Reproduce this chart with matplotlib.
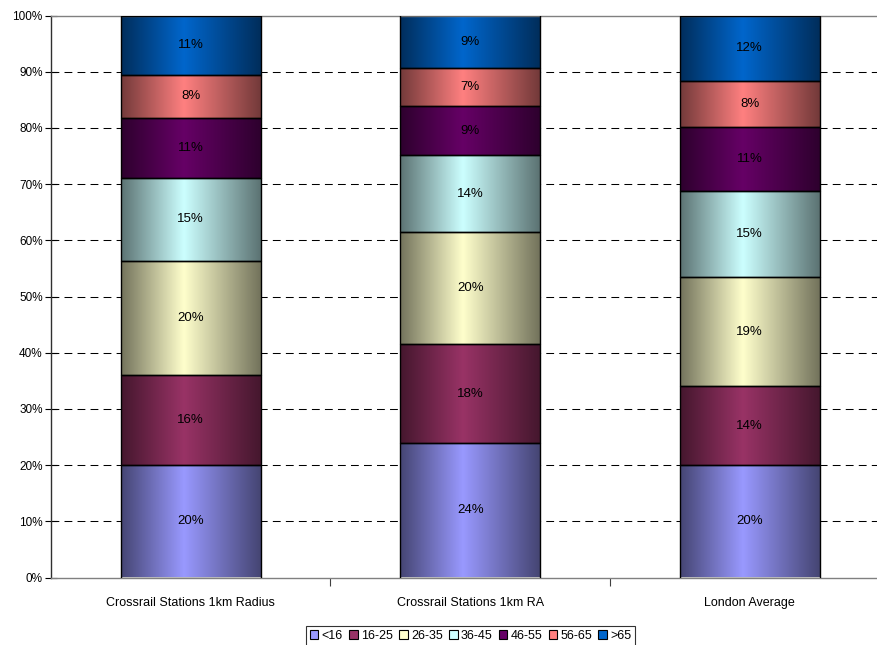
import numpy as np
import matplotlib
matplotlib.use("Agg")
import matplotlib.pyplot as plt
from matplotlib.colors import to_rgb

plt.rcParams["font.family"] = ["Liberation Sans", "DejaVu Sans"]
plt.rcParams["font.size"] = 9

# --- Data (share of population by age band, %) ---
areas = ["Crossrail Stations 1km Radius", "Crossrail Stations 1km RA", "London Average"]
age_bands = ["<16", "16-25", "26-35", "36-45", "46-55", "56-65", ">65"]
radius_1km = [20.0, 16.0, 20.4, 14.7, 10.7, 7.6, 10.6]
ra_1km = [23.9, 17.6, 20.0, 13.6, 8.8, 6.7, 9.4]
london_avg = [20.0, 14.0, 19.4, 15.3, 11.4, 8.3, 11.6]

band_colors = ["#9999FF", "#993366", "#FFFFCC", "#CCFFFF", "#660066", "#FF8080", "#0066CC"]

shares = np.array([radius_1km, ra_1km, london_avg])  # rows = areas


def shade(color, n=200):
    """Horizontal shading: dark at both edges, full colour just left of centre."""
    t = np.linspace(0, 1, n)
    peak = 0.45
    f = np.where(t < peak, 0.45 + 0.55 * t / peak, 0.45 + 0.55 * (1 - t) / (1 - peak))
    rgb = np.array(to_rgb(color))
    return (f[:, None] * rgb[None, :])[None, :, :]


fig = plt.figure(figsize=(8.77, 6.45), dpi=100)
ax = fig.add_axes([51 / 877, 67.5 / 645, 838.5 / 877, 562 / 645])

x = np.arange(len(areas))
width = 0.5
bottom = np.zeros(len(areas))

for j, band in enumerate(age_bands):
    vals = shares[:, j]
    bars = ax.bar(x, vals, width, bottom=bottom, facecolor="none",
                  edgecolor="black", linewidth=1.0, zorder=3)
    for rect, v in zip(bars, vals):
        x0, y0 = rect.get_x(), rect.get_y()
        ax.imshow(shade(band_colors[j]), extent=(x0, x0 + rect.get_width(), y0, y0 + v),
                  aspect="auto", interpolation="bilinear", zorder=2)
        ax.text(x0 + rect.get_width() / 2, y0 + v / 2, f"{v:.0f}%",
                ha="center", va="center", fontsize=9.5, zorder=4)
    bottom += vals

ax.set_xlim(-0.5, 2.5)
ax.set_ylim(0, 100)

ax.set_yticks(np.arange(0, 101, 10))
ax.set_yticklabels([f"{v}%" for v in range(0, 101, 10)], fontsize=8.5)
ax.tick_params(axis="y", direction="inout", length=8, width=0.8, pad=2)

ax.set_xticks(x)
ax.set_xticklabels(areas, fontsize=9)
ax.tick_params(axis="x", which="major", length=0, pad=14)
ax.set_xticks([0.5, 1.5], minor=True)
ax.tick_params(axis="x", which="minor", direction="out", length=6, width=0.8, color="#404040")

for yv in range(10, 100, 10):
    ax.axhline(yv, color="black", linewidth=0.75, linestyle=(0, (7.5, 5)), zorder=1)

ax.spines["left"].set_color("#303030")
ax.spines["bottom"].set_color("#808080")
ax.spines["top"].set_color("#808080")
ax.spines["right"].set_visible(False)
for s in ("left", "bottom", "top"):
    ax.spines[s].set_linewidth(1.0)

handles = [plt.Rectangle((0, 0), 1, 1, facecolor=c, edgecolor="black", linewidth=0.8)
           for c in band_colors]
leg = fig.legend(handles, age_bands, loc="upper center", bbox_to_anchor=(0.5365, 19 / 645),
                 ncol=7, frameon=True, fancybox=False, edgecolor="black",
                 handlelength=0.7, handleheight=0.7, handletextpad=0.25,
                 columnspacing=0.5, borderpad=0.3, borderaxespad=0, fontsize=9)
leg.get_frame().set_linewidth(0.8)

plt.savefig("out.png", dpi=100)
